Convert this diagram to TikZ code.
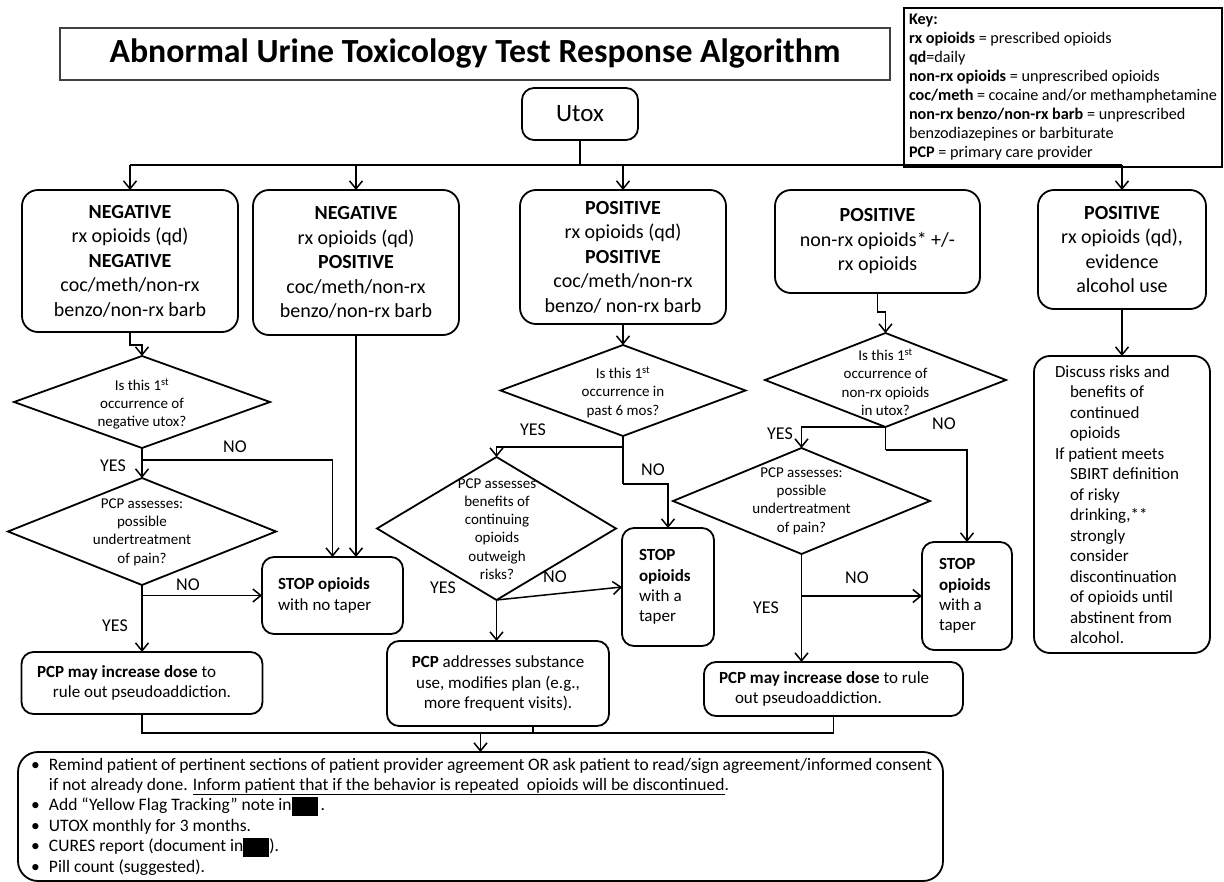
\documentclass[tikz,border=0pt]{standalone}
\usepackage{fontspec}
\setmainfont{Carlito}
\usetikzlibrary{shapes.geometric,arrows.meta,calc}
\begin{document}
\begin{tikzpicture}[x=1pt,y=-1pt,
  every node/.style={inner sep=0pt, outer sep=0pt, execute at begin node={\spaceskip=0pt\xspaceskip=0pt\relax}},
  topbox/.style={draw, line width=1.8pt, rounded corners=16pt, align=center, font=\fontsize{20}{24.5}\selectfont},
  smallbox/.style={draw, line width=1.8pt, rounded corners=12pt, font=\fontsize{17}{20.3}\selectfont},
  dia/.style={draw, diamond, line width=1.8pt, inner sep=0pt},
  dtext/.style={align=center, font=\fontsize{15}{18.3}\selectfont},
  lbl/.style={font=\fontsize{18}{20}\selectfont},
  arr/.style={line width=1.5pt, -{Straight Barb[length=8pt,width=13pt,line width=1.5pt]}},
  ln/.style={line width=1.5pt},
]
\useasboundingbox (0,0) rectangle (1224,882);

% title and key
\node[draw=black!75, line width=1.3pt, minimum width=830pt, minimum height=52pt,
  font=\fontsize{33.8}{40}\selectfont\bfseries] (title) at (475,54)
  {Abnormal Urine Toxicology Test Response Algorithm};
\node[draw, fill=white, line width=1.3pt, text width=308pt, inner xsep=5pt, minimum height=159pt,
  align=left, font=\fontsize{16.2}{19}\selectfont] (key) at (1063,87.5)
  {\textbf{Key:}\\
   \textbf{rx opioids} = prescribed opioids\\
   \textbf{qd}=daily\\
   \textbf{non-rx opioids} = unprescribed opioids\\
   \textbf{coc/meth} = cocaine and/or methamphetamine\\
   \textbf{non-rx benzo/non-rx barb} = unprescribed\\
   benzodiazepines or barbiturate\\
   \textbf{PCP} = primary care provider};

\node[draw, line width=1.8pt, rounded corners=12pt, minimum width=116pt, minimum height=52pt,
  font=\fontsize{25}{30}\selectfont] (utox) at (580,114) {Utox};

% top row
\node[topbox, minimum width=216pt, minimum height=142pt] (b1) at (130,261)
  {\textbf{NEGATIVE}\\rx opioids (qd)\\\textbf{NEGATIVE}\\coc/meth/non-rx\\benzo/non-rx barb};
\node[topbox, minimum width=206pt, minimum height=145pt] (b2) at (356,262.5)
  {\textbf{NEGATIVE}\\rx opioids (qd)\\\textbf{POSITIVE}\\coc/meth/non-rx\\benzo/non-rx barb};
\node[topbox, minimum width=206pt, minimum height=134pt] (b3) at (623,257)
  {\textbf{POSITIVE}\\rx opioids (qd)\\\textbf{POSITIVE}\\coc/meth/non-rx\\benzo/ non-rx barb};
\node[topbox, minimum width=205pt, minimum height=103pt] (b4) at (877.5,241.5)
  {\textbf{POSITIVE}\\non-rx opioids* +/-\\rx opioids};
\node[topbox, minimum width=168pt, minimum height=119pt] (b5) at (1122,249.5)
  {\textbf{POSITIVE}\\rx opioids (qd),\\evidence\\alcohol use};

% diamonds
\node[dia, minimum width=256pt, minimum height=92pt] (d1) at (142,402) {};
\node[dtext] (d1t) at (142,404) {Is this 1\textsuperscript{st}\\occurrence of\\negative utox?};
\node[dia, minimum width=268pt, minimum height=107pt] (d2) at (142,531.5) {};
\node[dtext] (d2t) at (142,532) {PCP assesses:\\possible\\undertreatment\\of pain?};
\node[dia, minimum width=245pt, minimum height=91pt] (d3) at (623,390.5) {};
\node[dtext] (d3t) at (623,392) {Is this 1\textsuperscript{st}\\occurrence in\\past 6 mos?};
\node[dia, minimum width=239pt, minimum height=143pt] (d4) at (496.5,528.5) {};
\node[dtext] (d4t) at (497,529) {PCP assesses\\benefits of\\continuing\\opioids\\outweigh\\risks?};
\node[dia, minimum width=241pt, minimum height=94pt] (d5) at (885.5,380) {};
\node[dtext] (d5t) at (885.5,382) {Is this 1\textsuperscript{st}\\occurrence of\\non-rx opioids\\in utox?};
\node[dia, minimum width=257pt, minimum height=106pt] (d6) at (801.5,501) {};
\node[dtext] (d6t) at (801.5,501) {PCP assesses:\\possible\\undertreatment\\of pain?};

% stop boxes
\node[smallbox, text width=109pt, inner xsep=16pt, minimum height=77pt, align=left] (s1) at (332.5,595.5)
  {\textbf{STOP opioids}\\with no taper};
\node[smallbox, text width=58pt, inner xsep=17pt, minimum height=118pt, align=left] (s2) at (668,587)
  {\textbf{STOP}\\\textbf{opioids}\\with a\\taper};
\node[smallbox, text width=56pt, inner xsep=17pt, minimum height=108pt, align=left] (s3) at (967,596)
  {\textbf{STOP}\\\textbf{opioids}\\with a\\taper};

% PCP boxes
\node[smallbox, text width=210pt, inner xsep=15.5pt, minimum height=62pt, align=left] (p1) at (142,683)
  {\textbf{PCP may increase dose} to\\\hspace*{16pt}rule out pseudoaddiction.};
\node[smallbox, minimum width=222pt, minimum height=85pt, align=center] (p2) at (498,683.5)
  {\textbf{PCP} addresses substance\\use, modifies plan (e.g.,\\more frequent visits).};
\node[smallbox, text width=229pt, inner xsep=15pt, minimum height=54pt, align=left] (p3) at (833.5,689)
  {\textbf{PCP may increase dose} to rule\\\hspace*{16pt}out pseudoaddiction.};

% right column box
\node[smallbox, rounded corners=16pt, text width=134pt, inner xsep=21pt, minimum height=297pt, align=left,
  font=\fontsize{17}{20.5}\selectfont] (r) at (1122,504.5)
  {Discuss risks and\\
   \hspace*{15pt}benefits of\\
   \hspace*{15pt}continued\\
   \hspace*{15pt}opioids\\
   If patient meets\\
   \hspace*{15pt}SBIRT definition\\
   \hspace*{15pt}of risky\\
   \hspace*{15pt}drinking,**\\
   \hspace*{15pt}strongly\\
   \hspace*{15pt}consider\\
   \hspace*{15pt}discontinuation\\
   \hspace*{15pt}of opioids until\\
   \hspace*{15pt}abstinent from\\
   \hspace*{15pt}alcohol.};

% bottom box
\node[smallbox, rounded corners=20pt, text width=903pt, inner xsep=11pt, minimum height=129pt, align=left,
  font=\fontsize{17.5}{20.4}\selectfont] (bot) at (480.5,816.5)
  {\makebox[20pt][l]{\hspace*{2pt}•}Remind patient of pertinent sections of patient provider agreement OR ask patient to read/sign agreement/informed consent\\
   \hspace*{20pt}if not already done. \underline{Inform patient that if the behavior is repeated\ \ opioids will be discontinued}.\\
   \makebox[20pt][l]{\hspace*{2pt}•}Add “Yellow Flag Tracking” note in\rule[-5pt]{26pt}{19pt}\,.\\
   \makebox[20pt][l]{\hspace*{2pt}•}UTOX monthly for 3 months.\\
   \makebox[20pt][l]{\hspace*{2pt}•}CURES report (document in\rule[-5pt]{26pt}{19pt}).\\
   \makebox[20pt][l]{\hspace*{2pt}•}Pill count (suggested).};

% coordinates
\coordinate (busM) at (580,165);
\coordinate (busL) at (130,165);
\coordinate (busR) at (1122,165);
\coordinate (n1) at (142,460);
\coordinate (n2) at (142,595.5);
\coordinate (y3) at (623,447);
\coordinate (n3) at (623,484);
\coordinate (n5) at (885.5,450);
\coordinate (n6) at (801.5,596);
\coordinate (mL) at (142,733);
\coordinate (mR) at (833.5,733);
\coordinate (mA) at (480.5,733);
\coordinate (p2s) at (533,726);

% connectors
\draw[ln] (utox.south) -- (busM);
\draw[ln] (busL) -- (busR);
\draw[arr] (busL) -- (b1.north);
\draw[arr] (b2.north |- busL) -- (b2.north);
\draw[arr] (b3.north |- busL) -- (b3.north);
\draw[arr] (busR) -- (b5.north);

\draw[arr] (b1.south) -- ++(0,13) -| (d1.north);
\draw[arr] (d1.south) -- (d2.north);
\draw[arr] (n1) -| (s1.north);
\draw[arr] (b2.south) -- (b2.south |- s1.north);
\draw[arr] (n2) -- (s1.west);
\draw[arr] (d2.south) -- (p1.north);

\draw[arr] (b3.south) -- (d3.north);
\draw[ln] (d3.south) -- (n3);
\draw[arr] (y3) -| (d4.north);
\draw[arr] (n3) -| (s2.north);
\draw[arr] (d4.south) -- (d4.south |- p2.north);
\draw[arr] (d4.south) -- (s2.west);

\draw[arr] (b4.south) -- ++(0,19) -| (d5.north);
\draw[arr] (d5.south) -| (d6.north);
\draw[ln] (d5.south) -- (n5);
\draw[arr] (n5) -| (s3.north);
\draw[arr] (d6.south) -- (d6.south |- p3.north);
\draw[arr] (n6) -- (s3.west);

\draw[arr] (b5.south) -- (r.north);

\draw[ln] (p1.south) -- (mL) -- (mR) -- (p3.south);
\draw[ln] (p2s) -- (p2s |- mL);
\draw[arr] (mA) -- (bot.north);

% labels
\node[lbl] (l1) at (235,447) {NO};
\node[lbl] (l2) at (113,466) {YES};
\node[lbl] (l3) at (188,585) {NO};
\node[lbl] (l4) at (115,626) {YES};
\node[lbl] (l5) at (533,430) {YES};
\node[lbl] (l6) at (653,470) {NO};
\node[lbl] (l7) at (443,588) {YES};
\node[lbl] (l8) at (555,577) {NO};
\node[lbl] (l9) at (780,434) {YES};
\node[lbl] (l10) at (944,424) {NO};
\node[lbl] (l11) at (857,578) {NO};
\node[lbl] (l12) at (766,608) {YES};
\end{tikzpicture}
\end{document}
